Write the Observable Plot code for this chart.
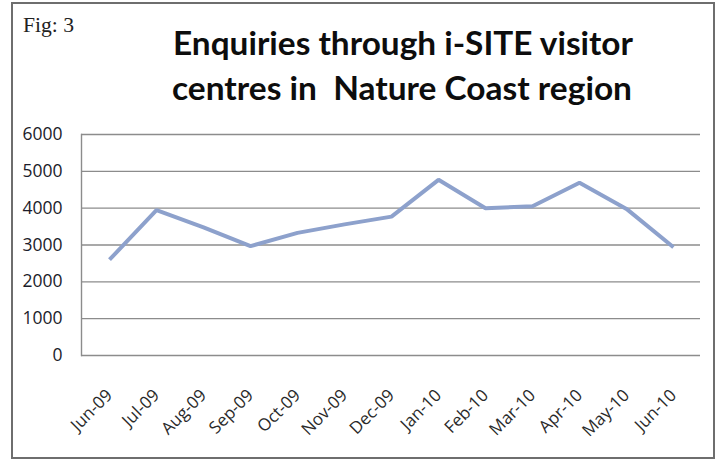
<!DOCTYPE html>
<html>
<head>
<meta charset="utf-8">
<script src="https://cdn.jsdelivr.net/npm/d3@7"></script>
<script src="https://cdn.jsdelivr.net/npm/@observablehq/plot@0.6"></script>
<style>
  html, body { margin: 0; padding: 0; background: #fff; }
  #wrap { position: relative; width: 719px; height: 459px; overflow: hidden; background: #fff; }
  #border { position: absolute; left: 11px; top: 2px; width: 700px; height: 453px; border: 2px solid #6e6e6e; }
  .t { position: absolute; white-space: nowrap; transform-origin: 0 0; }
  .title { font-family: Lato, "Open Sans", sans-serif; font-weight: 700; font-size: 32px; line-height: 32px; color: #0d0d0d; }
  .fig { font-family: "Liberation Serif", "DejaVu Serif", serif; font-size: 21px; line-height: 21px; color: #222; }
  #chart { position: absolute; left: 0; top: 0; }
</style>
</head>
<body>
<div id="wrap">
  <div id="chart"></div>
  <div id="border"></div>
  <div class="t fig" id="fig" data-w="51" style="left:23px; top:15px;">Fig: 3</div>
  <div class="t title" id="t1" data-w="460" style="left:173px; top:27px;">Enquiries through i-SITE visitor</div>
  <div class="t title" id="t2" data-w="460" style="left:172px; top:72px;">centres in&nbsp; Nature Coast region</div>
</div>
<script>
const months = ["Jun-09","Jul-09","Aug-09","Sep-09","Oct-09","Nov-09","Dec-09","Jan-10","Feb-10","Mar-10","Apr-10","May-10","Jun-10"];
const enquiries = [2600, 3950, 3480, 2970, 3330, 3560, 3770, 4770, 4000, 4050, 4690, 3980, 2940];
const yTicks = [0, 1000, 2000, 3000, 4000, 5000, 6000];

const data = months.map((m, i) => ({month: m, value: enquiries[i]}));

const chart = Plot.plot({
  width: 719,
  height: 459,
  marginLeft: 81,
  marginRight: 19,
  marginTop: 134,
  marginBottom: 104,
  style: {fontFamily: "'Open Sans', sans-serif", background: "transparent"},
  x: {type: "point", domain: months, padding: 0.5, label: null},
  y: {domain: [0, 6000], label: null},
  marks: [
    Plot.ruleY(yTicks, {stroke: "#8c8c8c", strokeWidth: 1.4}),
    Plot.frame({anchor: "left", stroke: "#8c8c8c", strokeWidth: 1.4}),
    Plot.line(data, {x: "month", y: "value", stroke: "#8da1cc", strokeWidth: 4, strokeLinejoin: "miter", strokeLinecap: "butt"}),
    Plot.axisY({ticks: yTicks, tickSize: 0, tickPadding: 19, tickFormat: d3.format("d"), fontSize: 17.5, fill: "#1c1c2a", label: null}),
    Plot.axisX({tickSize: 0, tickRotate: -45, tickPadding: 37, fontSize: 17, fill: "#2a2a2a", label: null})
  ]
});
document.getElementById("chart").appendChild(chart);

for (const el of document.querySelectorAll(".t")) {
  const target = +el.dataset.w;
  const w = el.getBoundingClientRect().width;
  if (w > 0) el.style.transform = `scaleX(${target / w})`;
}
</script>
</body>
</html>
